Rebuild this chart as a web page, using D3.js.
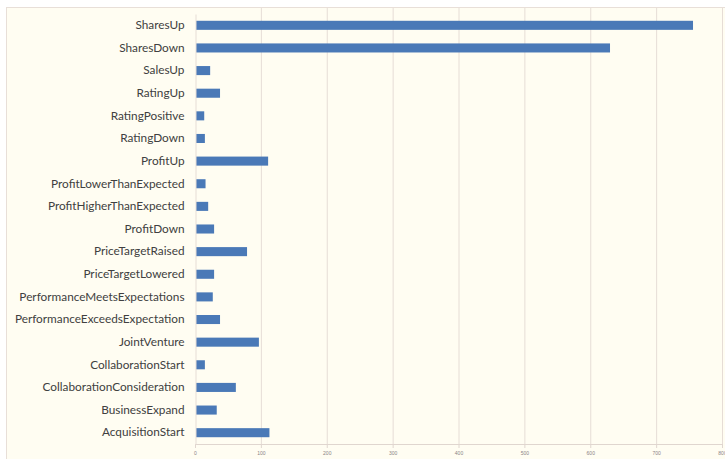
<!DOCTYPE html>
<html>
<head>
<meta charset="utf-8">
<script src="https://cdn.jsdelivr.net/npm/d3@7"></script>
<style>
  html, body { margin: 0; padding: 0; background: #ffffff; }
  svg { display: block; }
</style>
</head>
<body>
<svg id="chart" width="725" height="459"></svg>
<script>
// Event counts per category
const categories = [
  "SharesUp", "SharesDown", "SalesUp", "RatingUp", "RatingPositive", "RatingDown",
  "ProfitUp", "ProfitLowerThanExpected", "ProfitHigherThanExpected", "ProfitDown",
  "PriceTargetRaised", "PriceTargetLowered", "PerformanceMeetsExpectations",
  "PerformanceExceedsExpectation", "JointVenture", "CollaborationStart",
  "CollaborationConsideration", "BusinessExpand", "AcquisitionStart"
];
const counts = [756, 630, 23, 38, 14, 15, 111, 16, 20, 29, 79, 29, 27, 38, 97, 15, 62, 33, 113];
const tickValues = [0, 100, 200, 300, 400, 500, 600, 700, 800];

const svg = d3.select("#chart");
const W = 725, H = 459;
const plotLeft = 195, plotRight = 722, plotTop = 14, plotBottom = 444;

// chart panel
svg.append("rect").attr("x", 0).attr("y", 0).attr("width", W).attr("height", H).attr("fill", "#ffffff");
svg.append("rect")
  .attr("x", 6.5).attr("y", 7.5).attr("width", W - 6).attr("height", H)
  .attr("fill", "#fffdf2").attr("stroke", "#e8dfd8").attr("stroke-width", 1);

const x = d3.scaleLinear().domain([0, 800]).range([plotLeft, plotRight]);
const y = d3.scaleBand().domain(categories).range([plotTop, plotBottom]).paddingInner(0.6).paddingOuter(0.3);

// vertical gridlines
svg.append("g").selectAll("line").data(tickValues.slice(1)).join("line")
  .attr("x1", d => x(d) + 0.5).attr("x2", d => x(d) + 0.5)
  .attr("y1", plotTop - 6).attr("y2", plotBottom)
  .attr("stroke", "#e6ddd6").attr("stroke-width", 1);

// bars
svg.append("g").selectAll("rect").data(categories).join("rect")
  .attr("x", x(0) + 1)
  .attr("y", d => y(d))
  .attr("width", (d, i) => x(counts[i]) - x(0) - 1)
  .attr("height", y.bandwidth())
  .attr("fill", "#4a79b7");

// x axis
const xAxis = d3.axisBottom(x).tickValues(tickValues).tickSize(4).tickPadding(3).tickFormat(d3.format("d"));
const gx = svg.append("g").attr("transform", `translate(0,${plotBottom})`).call(xAxis);
gx.select(".domain").attr("stroke", "#e0d6cf");
gx.selectAll(".tick line").attr("stroke", "#e0d6cf");
gx.selectAll(".tick text").attr("fill", "#8a8486").attr("font-size", 5).attr("font-family", "Liberation Sans, sans-serif");

// y axis
const yAxis = d3.axisLeft(y).tickSize(0).tickPadding(11);
const gy = svg.append("g").attr("transform", `translate(${plotLeft + 0.5},0)`).call(yAxis);
gy.select(".domain").attr("stroke", "#e6ddd6");
gy.selectAll(".tick text")
  .attr("fill", "#404040").attr("font-size", 11.8)
  .attr("font-family", "Lato, 'Open Sans', sans-serif");
</script>
</body>
</html>
